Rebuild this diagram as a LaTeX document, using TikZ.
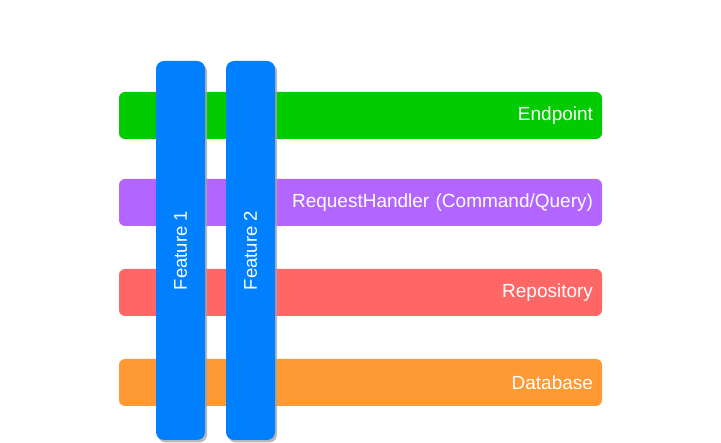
\documentclass[tikz,border=0pt]{standalone}
\usepackage{fontspec}
\setmainfont{Liberation Sans}
\usetikzlibrary{shadows}
\definecolor{cgreen}{HTML}{00CC00}
\definecolor{cpurple}{HTML}{B266FF}
\definecolor{cred}{HTML}{FF6666}
\definecolor{corange}{HTML}{FF9933}
\definecolor{cblue}{HTML}{007FFF}
\begin{document}
\begin{tikzpicture}[x=1pt,y=-1pt,
  layer/.style={draw=none, rounded corners=6pt, minimum height=47pt, text width=465pt, inner xsep=9pt, inner ysep=0pt, align=right, text=white, font=\fontsize{19}{22}\selectfont},
  feat/.style={fill=cblue, draw=none, rounded corners=8pt, minimum width=49pt, minimum height=379pt, inner sep=0pt,
    drop shadow={shadow xshift=2pt, shadow yshift=-2.5pt, fill=black!35, opacity=0.8}},
  ftext/.style={rotate=90, text=white, font=\fontsize{18.5}{21}\selectfont, inner sep=0pt}
]
\useasboundingbox (0,0) rectangle (721,443);
\node[layer, fill=cgreen] (ep) at (360.5,115.5) {Endpoint};
\node[layer, fill=cpurple] (rh) at (360.5,202.5) {RequestHandler (Command/Query)};
\node[layer, fill=cred] (repo) at (360.5,292.5) {Repository};
\node[layer, fill=corange] (db) at (360.5,382.5) {Database};
\node[feat] (f1) at (180.5,250.5) {};
\node[ftext] (t1) at (f1.center) {Feature 1};
\node[feat] (f2) at (250.5,250.5) {};
\node[ftext] (t2) at (f2.center) {Feature 2};
\end{tikzpicture}
\end{document}
